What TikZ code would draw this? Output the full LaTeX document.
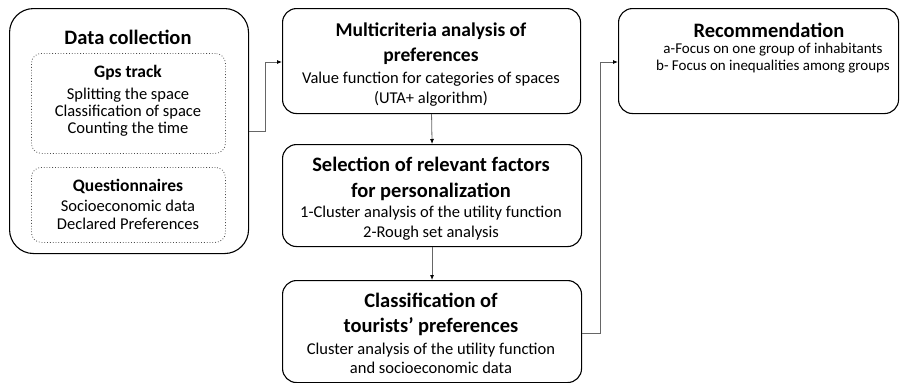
\documentclass[tikz,border=0pt]{standalone}
\usepackage{fontspec}
\setmainfont{Carlito}
\usetikzlibrary{arrows.meta}
\begin{document}
\begin{tikzpicture}[x=1pt,y=-1pt,
  box/.style={draw=black,line width=1.1pt,rounded corners=14pt,inner sep=0pt,anchor=north west},
  dotbox/.style={draw=black!70,dotted,line width=0.8pt,rounded corners=10pt,inner sep=0pt,anchor=north west},
  ttl/.style={font=\fontsize{20.5}{25}\selectfont\bfseries,align=center,inner sep=0pt},
  sttl/.style={font=\fontsize{17.5}{18}\selectfont\bfseries,align=center,inner sep=0pt},
  body/.style={font=\fontsize{16.5}{20}\selectfont,align=center,inner sep=0pt},
  conn/.style={draw=black!60,line width=0.8pt,-{Latex[length=5pt,width=4pt,black]}}]
\useasboundingbox (0,0) rectangle (906,383);
% boxes
\node[box,rounded corners=24pt,minimum width=239pt,minimum height=245pt] (dc) at (9,8) {};
\node[dotbox,minimum width=194pt,minimum height=100pt] (gps) at (31,53) {};
\node[dotbox,minimum width=194pt,minimum height=75pt] (qs) at (31,167) {};
\node[box,minimum width=298pt,minimum height=105pt] (mc) at (282,8) {};
\node[box,minimum width=299pt,minimum height=102pt] (sel) at (282,144) {};
\node[box,minimum width=299pt,minimum height=102pt] (cls) at (282,280) {};
\node[box,minimum width=280pt,minimum height=105pt] (rec) at (618,8) {};
% texts
\node[ttl] (t1) at (128,37) {Data collection};
\node[sttl] (t2) at (128,73) {Gps track};
\node[body,font=\fontsize{16.5}{17}\selectfont] (b2) at (128,112) {Splitting the space\\Classification of space\\Counting the time};
\node[sttl] (t3) at (128,186) {Questionnaires};
\node[body,font=\fontsize{16.5}{18.5}\selectfont] (b3) at (128,215) {Socioeconomic data\\Declared Preferences};
\node[ttl,font=\fontsize{19.5}{25}\selectfont\bfseries] (t4) at (431,43.5) {Multicriteria analysis of\\preferences};
\node[body] (b4) at (431,89) {Value function for categories of spaces\\(UTA+ algorithm)};
\node[ttl,font=\fontsize{20.5}{26}\selectfont\bfseries] (t5) at (431,179) {Selection of relevant factors\\for personalization};
\node[body] (b5) at (431,223.5) {1-Cluster analysis of the utility function\\2-Rough set analysis};
\node[ttl] (t6) at (431,314.5) {Classification of\\tourists’ preferences};
\node[body,font=\fontsize{16.5}{19}\selectfont] (b6) at (431,358.5) {Cluster analysis of the utility function\\and socioeconomic data};
\node[ttl] (t7) at (769,30) {Recommendation};
\node[body,font=\fontsize{15}{16.5}\selectfont] (b7) at (773,58) {a-Focus on one group of inhabitants\\b- Focus on inequalities among groups};
% connectors
\coordinate (c1) at (265,0);
\coordinate (c2) at (600,0);
\draw[conn] (dc.east |- 0,131) -| (c1 |- 0,62) -- (mc.west |- 0,62);
\draw[conn] (mc.south) -- (sel.north);
\draw[conn] (sel.south) -- (cls.north);
\draw[conn] (cls.east |- 0,333) -| (c2 |- 0,62) -- (rec.west |- 0,62);
\end{tikzpicture}
\end{document}
